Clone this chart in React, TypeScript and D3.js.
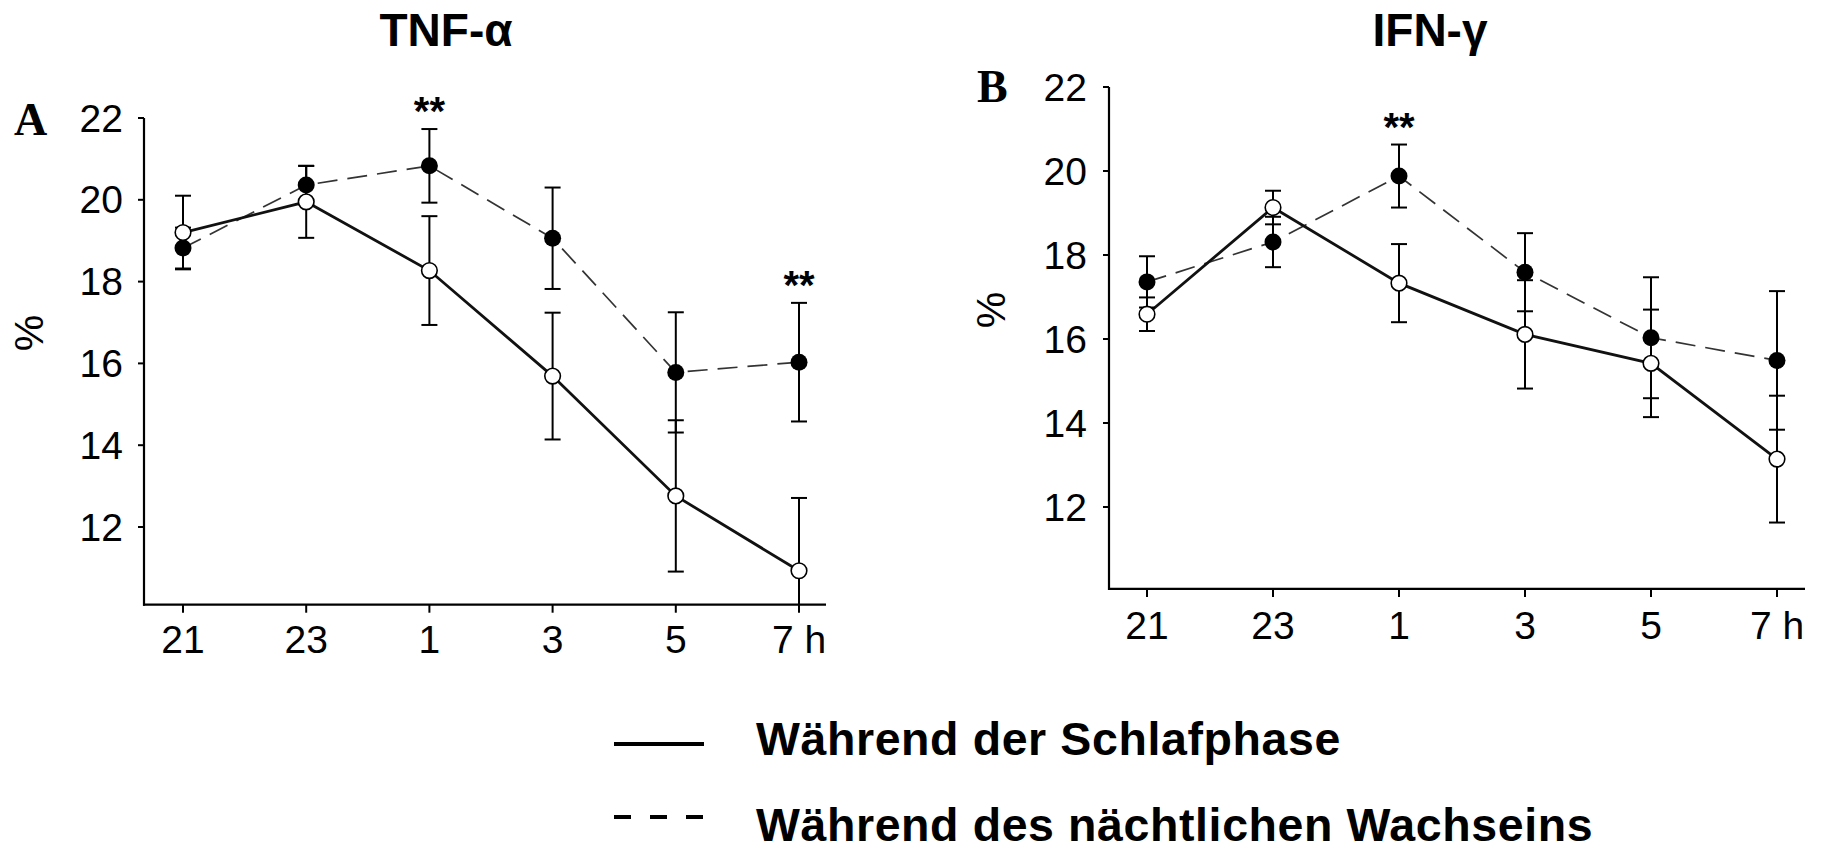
import React from "react";
import * as d3 from "d3";

const hours = ["21", "23", "1", "3", "5", "7 h"];
const yTicks = [12, 14, 16, 18, 20, 22];

const tnfSleep = [19.2, 19.95, 18.27, 15.69, 12.76, 10.93];
const tnfSleepErr = [0.9, 0.88, 1.33, 1.55, 1.85, 1.78];
const tnfWake = [18.82, 20.36, 20.83, 19.06, 15.78, 16.03];
const tnfWakeErr = [0.5, 0.47, 0.9, 1.24, 1.47, 1.45];
const tnfSignificant = [2, 5];

const ifnSleep = [16.59, 19.13, 17.33, 16.11, 15.42, 13.14];
const ifnSleepErr = [0.4, 0.4, 0.93, 1.29, 1.28, 1.51];
const ifnWake = [17.36, 18.31, 19.88, 17.59, 16.03, 15.49];
const ifnWakeErr = [0.61, 0.6, 0.75, 0.93, 1.44, 1.65];
const ifnSignificant = [2];

const legendLabels = ["Während der Schlafphase", "Während des nächtlichen Wachseins"];

const SANS = "'Liberation Sans', Arial, Helvetica, sans-serif";
const SERIF = "'Liberation Serif', 'Times New Roman', serif";

type PanelProps = {
  title: string;
  letter: string;
  titleX: number;
  letterX: number;
  letterY: number;
  axisX: number;
  axisEndX: number;
  x0: number;
  x1: number;
  yTop: number;
  y12: number;
  yBottomVal: number;
  sleep: number[];
  sleepErr: number[];
  wake: number[];
  wakeErr: number[];
  stars: number[];
  labelRight: number;
  xLabelY: number;
  pctX: number;
  pctY: number;
};

function Panel(p: PanelProps) {
  const x = d3.scalePoint<string>().domain(hours).range([p.x0, p.x1]);
  const y = d3.scaleLinear().domain([12, 22]).range([p.y12, p.yTop]);
  const axisY = y(p.yBottomVal);
  const clampY = (v: number) => Math.min(y(v), axisY);
  const line = d3
    .line<number>()
    .x((_, i) => x(hours[i]) as number)
    .y((d) => y(d));
  const bars = (vals: number[], errs: number[]) =>
    vals.map((v, i) => {
      const cx = x(hours[i]) as number;
      const top = y(v + errs[i]);
      const bot = clampY(v - errs[i]);
      const botCap = y(v - errs[i]) <= axisY;
      return (
        <g key={i} stroke="#000" strokeWidth={2}>
          <line x1={cx} x2={cx} y1={top} y2={bot} />
          <line x1={cx - 8} x2={cx + 8} y1={top} y2={top} />
          {botCap && <line x1={cx - 8} x2={cx + 8} y1={bot} y2={bot} />}
        </g>
      );
    });
  return (
    <g>
      <text x={p.titleX} y={46} textAnchor="middle" fontFamily={SANS} fontWeight="bold" fontSize={46}>
        {p.title}
      </text>
      <text x={p.letterX} y={p.letterY} fontFamily={SERIF} fontWeight="bold" fontSize={46}>
        {p.letter}
      </text>
      <text
        transform={`translate(${p.pctX},${p.pctY}) rotate(-90)`}
        textAnchor="middle"
        dominantBaseline="central"
        fontFamily={SANS}
        fontSize={41}
      >
        %
      </text>
      {/* axes */}
      <line x1={p.axisX} x2={p.axisX} y1={y(22)} y2={axisY + 1} stroke="#000" strokeWidth={2.2} />
      <line x1={p.axisX - 1} x2={p.axisEndX} y1={axisY} y2={axisY} stroke="#000" strokeWidth={2.2} />
      {yTicks.map((t) => (
        <g key={t}>
          <line x1={p.axisX - 6} x2={p.axisX} y1={y(t)} y2={y(t)} stroke="#000" strokeWidth={2} />
          <text
            x={p.labelRight}
            y={y(t)}
            textAnchor="end"
            dominantBaseline="central"
            fontFamily={SANS}
            fontSize={39}
          >
            {t}
          </text>
        </g>
      ))}
      {hours.map((h) => (
        <g key={h}>
          <line x1={x(h)} x2={x(h)} y1={axisY} y2={axisY + 8} stroke="#000" strokeWidth={2} />
          <text x={x(h)} y={p.xLabelY} textAnchor="middle" fontFamily={SANS} fontSize={39}>
            {h}
          </text>
        </g>
      ))}
      {/* lines */}
      <path d={line(p.wake) || ""} fill="none" stroke="#333" strokeWidth={1.7} strokeDasharray="20 10" />
      <path d={line(p.sleep) || ""} fill="none" stroke="#111" strokeWidth={2.8} />
      {bars(p.wake, p.wakeErr)}
      {bars(p.sleep, p.sleepErr)}
      {p.wake.map((v, i) => (
        <circle key={"w" + i} cx={x(hours[i])} cy={y(v)} r={8.5} fill="#000" />
      ))}
      {p.sleep.map((v, i) => (
        <circle key={"s" + i} cx={x(hours[i])} cy={y(v)} r={7.8} fill="#fff" stroke="#000" strokeWidth={1.6} />
      ))}
      {p.stars.map((i) => {
        const top = Math.max(p.wake[i] + p.wakeErr[i], p.sleep[i] + p.sleepErr[i]);
        return (
          <text
            key={"st" + i}
            x={x(hours[i])}
            y={y(top) - 27 + 23}
            textAnchor="middle"
            fontFamily={SANS}
            fontWeight="bold"
            fontSize={40}
          >
            **
          </text>
        );
      })}
    </g>
  );
}

export default function App() {
  return (
    <div style={{ position: "absolute", left: 0, top: 0 }}>
      <svg width={1824} height={851} style={{ display: "block", background: "#fff" }}>
        <rect width={1824} height={851} fill="#fff" />
        <Panel
          title="TNF-α"
          letter="A"
          titleX={446}
          letterX={14}
          letterY={135}
          axisX={144}
          axisEndX={826}
          x0={183}
          x1={799}
          yTop={118}
          y12={527}
          yBottomVal={10.1}
          sleep={tnfSleep}
          sleepErr={tnfSleepErr}
          wake={tnfWake}
          wakeErr={tnfWakeErr}
          stars={tnfSignificant}
          labelRight={123}
          xLabelY={653}
          pctX={29}
          pctY={333}
        />
        <Panel
          title="IFN-γ"
          letter="B"
          titleX={1430}
          letterX={977}
          letterY={102}
          axisX={1109}
          axisEndX={1805}
          x0={1147}
          x1={1777}
          yTop={87}
          y12={507}
          yBottomVal={10.05}
          sleep={ifnSleep}
          sleepErr={ifnSleepErr}
          wake={ifnWake}
          wakeErr={ifnWakeErr}
          stars={ifnSignificant}
          labelRight={1087}
          xLabelY={639}
          pctX={991}
          pctY={310}
        />
        {/* legend */}
        <line x1={614} x2={704} y1={744} y2={744} stroke="#000" strokeWidth={4} />
        <line x1={614} x2={704} y1={817} y2={817} stroke="#000" strokeWidth={4} strokeDasharray="17 19" />
        <text x={756} y={755} fontFamily={SANS} fontWeight="bold" fontSize={46.5} letterSpacing={0.6}>
          {legendLabels[0]}
        </text>
        <text x={756} y={841} fontFamily={SANS} fontWeight="bold" fontSize={46.5} letterSpacing={0.6}>
          {legendLabels[1]}
        </text>
      </svg>
    </div>
  );
}
